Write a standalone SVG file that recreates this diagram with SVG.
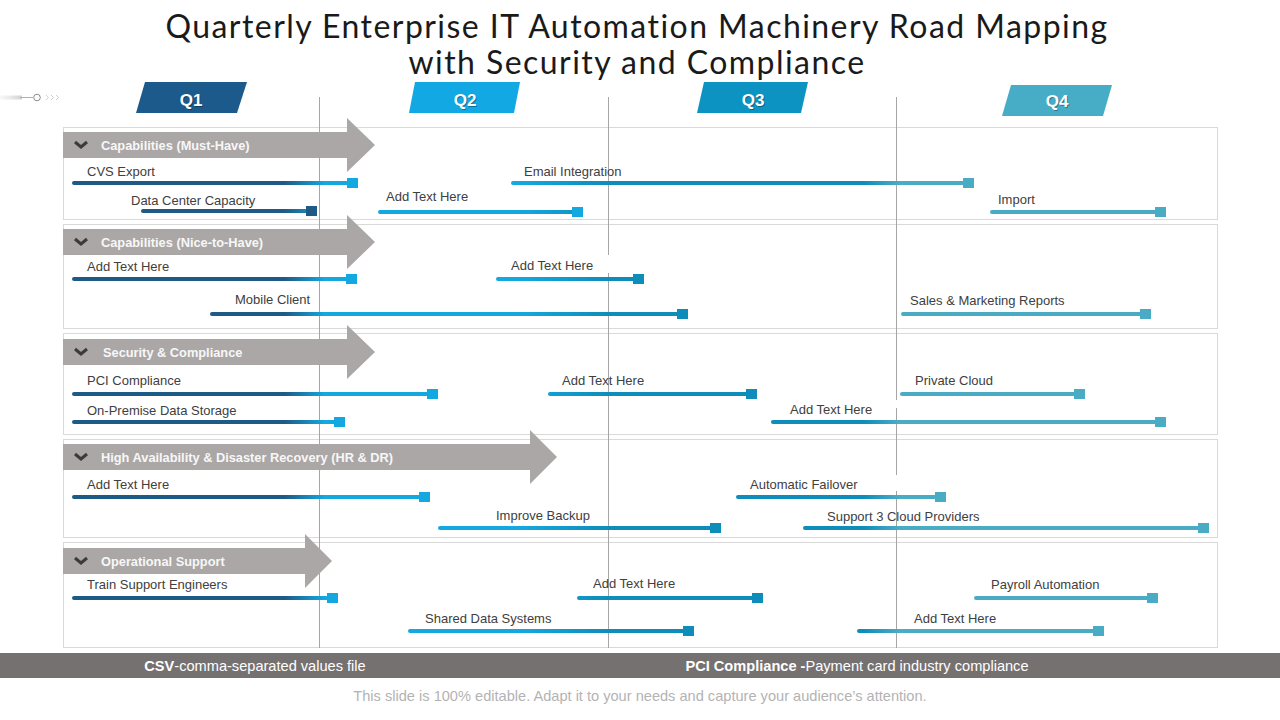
<svg xmlns="http://www.w3.org/2000/svg" width="1280" height="720" viewBox="0 0 1280 720">
<style>
.title{font-family:Lato,"Liberation Sans",sans-serif;font-size:32px;letter-spacing:1.45px;fill:#1a1a1a;text-anchor:middle}
.qt{font-family:"Liberation Sans",Arial,sans-serif;font-size:17px;font-weight:bold;fill:#fff;text-anchor:middle}
.qs{font-family:"Liberation Sans",Arial,sans-serif;font-size:17px;font-weight:bold;fill:#000;fill-opacity:.35;text-anchor:middle}
.box{fill:#fff;stroke:#d9d9d9;stroke-width:1}
.vline{stroke:#a6a6a6;stroke-width:1}
.hdr{fill:#aba7a6}
.hdrt{font-family:"Liberation Sans",Arial,sans-serif;font-size:12.8px;font-weight:bold;fill:#f7f7f7}
.chev{fill:none;stroke:#3b3b3b;stroke-width:3;stroke-linejoin:miter}
.lbl{font-family:"Liberation Sans",Arial,sans-serif;font-size:13px;fill:#404040}
.bar{stroke:url(#gBar);stroke-width:4;stroke-linecap:round;fill:none}
.s1{fill:#1e5a86}.s2{fill:#14a8e0}.s3{fill:#0e8dba}.s4{fill:#4aabc5}
.ft{font-family:"Liberation Sans",Arial,sans-serif;font-size:14.6px;fill:#fff;text-anchor:middle}
.note{font-family:"Liberation Sans",Arial,sans-serif;font-size:14.6px;fill:#b3b3b3;text-anchor:middle}
</style>
<defs>
<linearGradient id="gBar" gradientUnits="userSpaceOnUse" x1="0" y1="0" x2="1280" y2="0">
<stop offset="0" stop-color="#1e5a86"/>
<stop offset="0.222" stop-color="#1e5a86"/>
<stop offset="0.254" stop-color="#14a8e0"/>
<stop offset="0.405" stop-color="#14a8e0"/>
<stop offset="0.475" stop-color="#0e8dba"/>
<stop offset="0.675" stop-color="#0e8dba"/>
<stop offset="0.702" stop-color="#4aabc5"/>
<stop offset="1" stop-color="#4aabc5"/>
</linearGradient>
<linearGradient id="gDeco" x1="0" y1="0" x2="1" y2="0">
<stop offset="0" stop-color="#e6e6e6" stop-opacity="0.3"/>
<stop offset="1" stop-color="#d0d0d0"/>
</linearGradient>
</defs>
<rect width="1280" height="720" fill="#fff"/>

<g id="title">
<text class="title" x="637" y="38">Quarterly Enterprise IT Automation Machinery Road Mapping</text>
<text class="title" x="637" y="74">with Security and Compliance</text>
</g>

<g id="deco">
<rect x="0" y="95.5" width="22" height="4" fill="url(#gDeco)"/>
<line x1="20" y1="97.5" x2="33" y2="97.5" stroke="#b0b0b0" stroke-width="1"/>
<circle cx="37" cy="97.5" r="3.3" fill="#fff" stroke="#8c8c8c" stroke-width="1"/>
<polyline points="46,95 48.5,97.5 46,100" fill="none" stroke="#cfcfcf" stroke-width="1"/>
<polyline points="51,95 53.5,97.5 51,100" fill="none" stroke="#cfcfcf" stroke-width="1"/>
<polyline points="56,95 58.5,97.5 56,100" fill="none" stroke="#cfcfcf" stroke-width="1"/>
</g>

<g id="q1"><polygon points="145,82 247,82 237,113 136,113" fill="#1b5a8b"/><text class="qs" x="192" y="107">Q1</text><text class="qt" x="191" y="106">Q1</text></g>
<g id="q2"><polygon points="415,82 520,82 514,113 409,113" fill="#12a8e3"/><text class="qs" x="466" y="107">Q2</text><text class="qt" x="465" y="106">Q2</text></g>
<g id="q3"><polygon points="704,82 808,82 801,113 697,113" fill="#0c93c2"/><text class="qs" x="754" y="107">Q3</text><text class="qt" x="753" y="106">Q3</text></g>
<g id="q4"><polygon points="1011,85 1112,85 1103,116 1002,116" fill="#47adc7"/><text class="qs" x="1058" y="108">Q4</text><text class="qt" x="1057" y="107">Q4</text></g>

<g id="boxes">
<rect class="box" x="63.5" y="127.5" width="1154" height="92"/>
<rect class="box" x="63.5" y="224.5" width="1154" height="104"/>
<rect class="box" x="63.5" y="333.5" width="1154" height="101"/>
<rect class="box" x="63.5" y="439.5" width="1154" height="98"/>
<rect class="box" x="63.5" y="542.5" width="1154" height="105"/>
</g>

<g id="quarter-lines">
<line class="vline" x1="319.5" y1="97" x2="319.5" y2="648"/>
<line class="vline" x1="608.5" y1="97" x2="608.5" y2="648"/>
<line class="vline" x1="896.5" y1="97" x2="896.5" y2="648"/>
<rect x="600" y="255" width="16" height="18" fill="#fff"/>
<rect x="890" y="400" width="14" height="8" fill="#fff"/>
<rect x="890" y="475" width="14" height="16" fill="#fff"/>
</g>

<g id="sec1">
<path class="hdr" d="M63,132 H347 V118 L375,145 L347,172 V158 H63 Z"/>
<polyline class="chev" points="75,142 81,147 87,142"/>
<text class="hdrt" x="101" y="149.5">Capabilities (Must-Have)</text>
</g>
<g id="sec2">
<path class="hdr" d="M63,229 H347 V215 L375,242 L347,269 V255 H63 Z"/>
<polyline class="chev" points="75,239 81,244 87,239"/>
<text class="hdrt" x="101" y="246.5">Capabilities (Nice-to-Have)</text>
</g>
<g id="sec3">
<path class="hdr" d="M63,339 H347 V325 L375,352 L347,379 V365 H63 Z"/>
<polyline class="chev" points="75,349 81,354 87,349"/>
<text class="hdrt" x="103" y="356.5">Security &amp; Compliance</text>
</g>
<g id="sec4">
<path class="hdr" d="M63,444 H530 V430 L557,457 L530,484 V470 H63 Z"/>
<polyline class="chev" points="75,454 81,459 87,454"/>
<text class="hdrt" x="101" y="461.5">High Availability &amp; Disaster Recovery (HR &amp; DR)</text>
</g>
<g id="sec5">
<path class="hdr" d="M63,548 H305 V534 L332,561 L305,588 V574 H63 Z"/>
<polyline class="chev" points="75,558 81,563 87,558"/>
<text class="hdrt" x="101" y="565.5">Operational Support</text>
</g>

<g id="connectors">
<line class="bar" x1="74" y1="183" x2="348" y2="183"/><rect class="s2" x="347" y="178" width="11" height="10"/>
<line class="bar" x1="143" y1="211" x2="307" y2="211"/><rect class="s1" x="306" y="206" width="11" height="10"/>
<line class="bar" x1="380" y1="212" x2="573" y2="212"/><rect class="s2" x="572" y="207" width="11" height="10"/>
<line class="bar" x1="513" y1="183" x2="964" y2="183"/><rect class="s4" x="963" y="178" width="11" height="10"/>
<line class="bar" x1="992" y1="212" x2="1156" y2="212"/><rect class="s4" x="1155" y="207" width="11" height="10"/>
<line class="bar" x1="74" y1="279" x2="347" y2="279"/><rect class="s2" x="346" y="274" width="11" height="10"/>
<line class="bar" x1="212" y1="314" x2="678" y2="314"/><rect class="s3" x="677" y="309" width="11" height="10"/>
<line class="bar" x1="498" y1="279" x2="634" y2="279"/><rect class="s3" x="633" y="274" width="11" height="10"/>
<line class="bar" x1="903" y1="314" x2="1141" y2="314"/><rect class="s4" x="1140" y="309" width="11" height="10"/>
<line class="bar" x1="74" y1="394" x2="428" y2="394"/><rect class="s2" x="427" y="389" width="11" height="10"/>
<line class="bar" x1="74" y1="422" x2="335" y2="422"/><rect class="s2" x="334" y="417" width="11" height="10"/>
<line class="bar" x1="550" y1="394" x2="747" y2="394"/><rect class="s3" x="746" y="389" width="11" height="10"/>
<line class="bar" x1="902" y1="394" x2="1075" y2="394"/><rect class="s4" x="1074" y="389" width="11" height="10"/>
<line class="bar" x1="773" y1="422" x2="1156" y2="422"/><rect class="s4" x="1155" y="417" width="11" height="10"/>
<line class="bar" x1="74" y1="497" x2="420" y2="497"/><rect class="s2" x="419" y="492" width="11" height="10"/>
<line class="bar" x1="440" y1="528" x2="711" y2="528"/><rect class="s3" x="710" y="523" width="11" height="10"/>
<line class="bar" x1="738" y1="497" x2="936" y2="497"/><rect class="s4" x="935" y="492" width="11" height="10"/>
<line class="bar" x1="805" y1="528" x2="1199" y2="528"/><rect class="s4" x="1198" y="523" width="11" height="10"/>
<line class="bar" x1="74" y1="598" x2="328" y2="598"/><rect class="s2" x="327" y="593" width="11" height="10"/>
<line class="bar" x1="579" y1="598" x2="753" y2="598"/><rect class="s3" x="752" y="593" width="11" height="10"/>
<line class="bar" x1="976" y1="598" x2="1148" y2="598"/><rect class="s4" x="1147" y="593" width="11" height="10"/>
<line class="bar" x1="410" y1="631" x2="684" y2="631"/><rect class="s3" x="683" y="626" width="11" height="10"/>
<line class="bar" x1="859" y1="631" x2="1094" y2="631"/><rect class="s4" x="1093" y="626" width="11" height="10"/>
</g>

<g id="labels">
<text class="lbl" x="87" y="175.5">CVS Export</text>
<text class="lbl" x="131" y="204.5">Data Center Capacity</text>
<text class="lbl" x="386" y="200.5">Add Text Here</text>
<text class="lbl" x="524" y="175.5">Email Integration</text>
<text class="lbl" x="998" y="203.5">Import</text>
<text class="lbl" x="87" y="270.5">Add Text Here</text>
<text class="lbl" x="235" y="303.5">Mobile Client</text>
<text class="lbl" x="511" y="269.5">Add Text Here</text>
<text class="lbl" x="910" y="304.5">Sales &amp; Marketing Reports</text>
<text class="lbl" x="87" y="384.5">PCI Compliance</text>
<text class="lbl" x="87" y="414.5">On-Premise Data Storage</text>
<text class="lbl" x="562" y="384.5">Add Text Here</text>
<text class="lbl" x="915" y="384.5">Private  Cloud</text>
<text class="lbl" x="790" y="413.5">Add Text Here</text>
<text class="lbl" x="87" y="488.5">Add Text Here</text>
<text class="lbl" x="496" y="519.5">Improve  Backup</text>
<text class="lbl" x="750" y="488.5">Automatic Failover</text>
<text class="lbl" x="827" y="520.5">Support 3 Cloud Providers</text>
<text class="lbl" x="87" y="588.5">Train Support Engineers</text>
<text class="lbl" x="593" y="587.5">Add Text Here</text>
<text class="lbl" x="991" y="588.5">Payroll Automation</text>
<text class="lbl" x="425" y="622.5">Shared Data Systems</text>
<text class="lbl" x="914" y="622.5">Add Text Here</text>
</g>

<g id="footer">
<rect x="0" y="653" width="1280" height="25" fill="#767171"/>
<text class="ft" x="255" y="671"><tspan font-weight="bold">CSV</tspan>-comma-separated values file</text>
<text class="ft" x="857" y="671"><tspan font-weight="bold">PCI Compliance -</tspan>Payment card industry compliance</text>
<text class="note" x="640" y="701">This slide is 100% editable. Adapt it to your needs and capture your audience’s attention.</text>
</g>
</svg>
